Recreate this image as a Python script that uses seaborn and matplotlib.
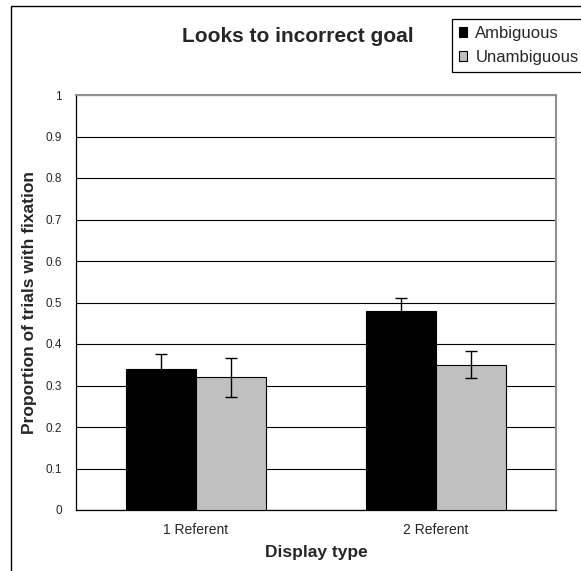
import pandas as pd
import matplotlib.pyplot as plt
import matplotlib.patches as mpatches
import seaborn as sns

# Chart values
display_types = ['1 Referent', '2 Referent']
conditions = ['Ambiguous', 'Unambiguous']
ambiguous = [0.34, 0.48]
unambiguous = [0.32, 0.35]
ambiguous_err = [0.035, 0.03]
unambiguous_err = [0.047, 0.033]
y_ticks = [0, 0.1, 0.2, 0.3, 0.4, 0.5, 0.6, 0.7, 0.8, 0.9, 1]

df = pd.DataFrame({
    'Display type': display_types * 2,
    'Condition': [conditions[0]] * 2 + [conditions[1]] * 2,
    'Proportion': ambiguous + unambiguous,
    'Err': ambiguous_err + unambiguous_err,
})

sns.set_style('white')
plt.rcParams['font.family'] = ['Liberation Sans', 'DejaVu Sans']

fig = plt.figure(figsize=(5.81, 5.71), dpi=100)
ax = fig.add_axes([76 / 581, 1 - 510 / 571, 480 / 581, 415 / 571])

sns.barplot(data=df, x='Display type', y='Proportion', hue='Condition',
            hue_order=conditions, palette=['black', '#c0c0c0'],
            width=0.583, edgecolor='black', linewidth=0.8, errorbar=None,
            ax=ax, zorder=3)

# error bars at the centres of the drawn bars
bars = [p for p in ax.patches if p.get_height() > 0]
for bar in bars:
    cx = bar.get_x() + bar.get_width() / 2
    h = bar.get_height()
    row = df[(df['Proportion'] == h)]
    ax.errorbar(cx, h, yerr=row['Err'].iloc[0], fmt='none', ecolor='black',
                elinewidth=1, capsize=4, capthick=1, zorder=4)

ax.set_ylim(0, 1)
ax.set_xlim(-0.5, 1.5)
ax.set_yticks(y_ticks)
ax.set_yticklabels([f'{t:g}' for t in y_ticks], fontsize=8.5)
ax.yaxis.grid(True, color='black', linewidth=0.8, zorder=0)
ax.set_axisbelow(True)

# Excel-style category ticks between groups
ax.set_xticks([-0.5, 0.5, 1.5], minor=False)
ax.set_xticklabels([])
ax.set_xticks([0, 1], minor=True)
ax.set_xticklabels(display_types, minor=True, fontsize=10)
ax.tick_params(axis='x', which='major', direction='out', length=4, width=0.8, color='black')
ax.tick_params(axis='x', which='minor', length=0, pad=9)
ax.tick_params(axis='y', direction='out', length=4, width=0.8, color='black', pad=6)

for side in ['left', 'bottom']:
    ax.spines[side].set_color('black')
    ax.spines[side].set_linewidth(0.9)
for side in ['right', 'top']:
    ax.spines[side].set_color('#909090')
    ax.spines[side].set_linewidth(1.5)

ax.set_xlabel('Display type', fontsize=12.5, fontweight='bold')
ax.xaxis.set_label_coords(0.5, -(552 - 510) / 415)
ax.xaxis.label.set_va('center')
ax.set_ylabel('Proportion of trials with fixation', fontsize=12.5, fontweight='bold')
ax.yaxis.set_label_coords(-(76 - 37) / 480, 0.5)
fig.text(298 / 581, 1 - 37 / 571, 'Looks to incorrect goal', fontsize=15,
         fontweight='bold', ha='center', va='center')

handles, labels = ax.get_legend_handles_labels()
ax.legend_.remove()
leg = fig.legend(handles, labels, loc='upper left', bbox_to_anchor=(452 / 581, 1 - 19 / 571),
                 fontsize=12, frameon=True, fancybox=False, edgecolor='black',
                 framealpha=1, handlelength=0.5, handleheight=0.5, handletextpad=0.5,
                 borderpad=0.4, labelspacing=0.55, borderaxespad=0)
leg.get_frame().set_linewidth(0.9)

# outer chart border
fig.patches.append(mpatches.Rectangle((11 / 581, -0.1), 1.2, 1 - 5.5 / 571 + 0.1,
                                      transform=fig.transFigure, fill=False,
                                      edgecolor='black', linewidth=1, zorder=0))

fig.savefig('out.png', dpi=100)
